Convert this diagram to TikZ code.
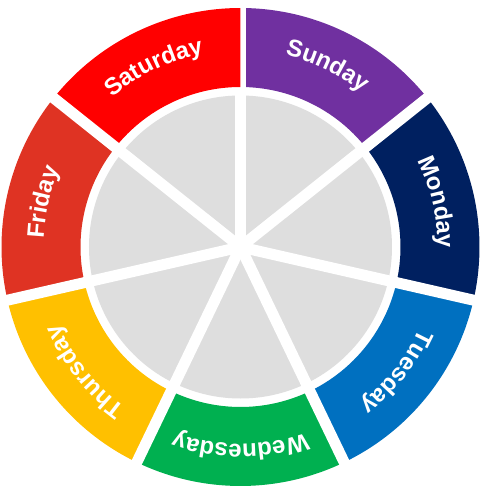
\documentclass[tikz,border=0pt]{standalone}
\usepackage{fontspec}
\setmainfont{Liberation Sans}
\usetikzlibrary{decorations.text}
\definecolor{daypurple}{HTML}{7030A0}
\definecolor{daynavy}{HTML}{002060}
\definecolor{dayblue}{HTML}{0070C0}
\definecolor{daygreen}{HTML}{00B050}
\definecolor{dayyellow}{HTML}{FFC000}
\definecolor{dayorange}{HTML}{DF3323}
\definecolor{dayred}{HTML}{FF0000}
\definecolor{hubgray}{HTML}{DEDEDE}
\newcommand{\dayfont}{\fontsize{24}{24}\selectfont\bfseries\color{white}}

\begin{document}
\begin{tikzpicture}[
  x=1pt, y=1pt,
  gapline/.style={white, line width=11pt},
  daytext/.style={decorate, decoration={text along path, text align=center, text={#1}}},
]

% ---- radii ----
\def\rOut{239}
\def\rIn{160}
\def\rHub{151.5}
\def\rText{197}

\fill[white] (-240.5,-241) rectangle (246.5,247);
\useasboundingbox (-240.5,-241) rectangle (246.5,247);

% ---- grey hub ----
\fill[hubgray] (0,0) circle[radius=\rHub];

% ---- coloured ring and gaps ----
\foreach \col [count=\i from 0] in {daypurple,daynavy,dayblue,daygreen,dayyellow,dayorange,dayred}{
  \pgfmathsetmacro\aA{90-\i*360/7}
  \pgfmathsetmacro\aB{\aA-360/7}
  \fill[\col] (\aA:\rOut) arc[start angle=\aA, end angle=\aB, radius=\rOut]
    -- (\aB:\rIn) arc[start angle=\aB, end angle=\aA, radius=\rIn] -- cycle;
  \draw[gapline] (0,0) -- (\aA:250);
}

% ---- day names ----
\path[daytext={|\dayfont|Sunday}]    (90:\rText)     arc[start angle=90,     end angle=38.57,   radius=\rText];
\path[daytext={|\dayfont|Monday}]    (38.57:\rText)  arc[start angle=38.57,  end angle=-12.86,  radius=\rText];
\path[daytext={|\dayfont|Tuesday}]   (-12.86:\rText) arc[start angle=-12.86, end angle=-64.29,  radius=\rText];
\path[daytext={|\dayfont|Wednesday}] (-64.29:\rText) arc[start angle=-64.29, end angle=-115.71, radius=\rText];
\path[daytext={|\dayfont|Thursday}]  (-115.71:\rText) arc[start angle=-115.71, end angle=-167.14, radius=\rText];
\path[daytext={|\dayfont|Friday}]    (-167.14:\rText) arc[start angle=-167.14, end angle=-218.57, radius=\rText];
\path[daytext={|\dayfont|Saturday}]  (141.43:\rText) arc[start angle=141.43, end angle=90,      radius=\rText];

\end{tikzpicture}
\end{document}
